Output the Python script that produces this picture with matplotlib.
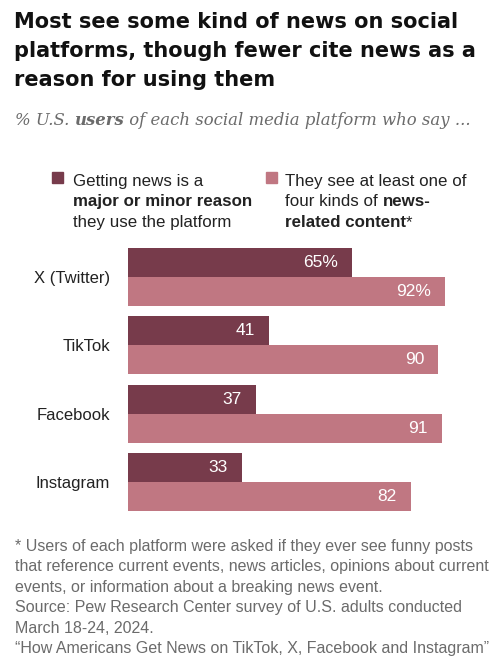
import matplotlib.pyplot as plt
from matplotlib.patches import Rectangle
from matplotlib.text import Annotation

platforms = ["X (Twitter)", "TikTok", "Facebook", "Instagram"]
news_reason = [65, 41, 37, 33]
see_news = [92, 90, 91, 82]

title = "Most see some kind of news on social\nplatforms, though fewer cite news as a\nreason for using them"
footnote = [
    "* Users of each platform were asked if they ever see funny posts",
    "that reference current events, news articles, opinions about current",
    "events, or information about a breaking news event.",
    "Source: Pew Research Center survey of U.S. adults conducted",
    "March 18-24, 2024.",
    "\u201cHow Americans Get News on TikTok, X, Facebook and Instagram\u201d",
]

dark = "#773b4b"
light = "#c07782"
grey = "#6b6b6b"

plt.rcParams['font.family'] = ['Liberation Sans', 'DejaVu Sans']

W, H = 500, 663
fig = plt.figure(figsize=(W / 100, H / 100), dpi=100)


def fx(px):
    return px / W


def fy(px):
    return 1 - px / H


def rich(x, y, parts, **kw):
    # chain text pieces so mixed weights/styles sit on one line
    s, style = parts[0]
    t = fig.text(x, y, s, va='baseline', **style, **kw)
    for s, style in parts[1:]:
        t = fig.add_artist(Annotation(s, xy=(1, 0), xycoords=t, va='bottom',
                                      ha='left', **style, **kw))
    return t


# title and subtitle
fig.text(fx(14), fy(12), title, va='top', ha='left', fontsize=15,
         fontweight='bold', color='#111111', linespacing=1.55,
         family='DejaVu Sans')

serif = dict(family=['DejaVu Serif'], style='italic')
rich(fx(15), fy(125), [("% U.S. ", serif),
                       ("users", dict(serif, weight='bold')),
                       (" of each social media platform who say ...", serif)],
     fontsize=11.9, color=grey)

# bars
ax = fig.add_axes([fx(128), fy(511), fx(344.6), 263 / H])
h = 0.42
pos = list(range(len(platforms)))
b1 = ax.barh([p - h / 2 for p in pos], news_reason, height=h, color=dark)
b2 = ax.barh([p + h / 2 for p in pos], see_news, height=h, color=light)
ax.set_xlim(0, 100)
ax.set_ylim(3 + h, -h)
ax.set_yticks(pos, platforms)
ax.tick_params(axis='y', length=0, pad=13, labelsize=12, labelcolor='#222222')
ax.set_xticks([])
for sp in ax.spines.values():
    sp.set_visible(False)

for bars, vals in ((b1, news_reason), (b2, see_news)):
    for i, (bar, v) in enumerate(zip(bars, vals)):
        lab = f"{v}%" if i == 0 else str(v)
        ax.annotate(lab, xy=(v, bar.get_y() + bar.get_height() / 2),
                    xytext=(-10, 0), textcoords='offset points',
                    ha='right', va='center', color='white', fontsize=12.5)

# legend
fig.add_artist(Rectangle((fx(52), fy(183)), fx(11), 11 / H, color=dark,
                         transform=fig.transFigure))
fig.add_artist(Rectangle((fx(266), fy(183)), fx(11), 11 / H, color=light,
                         transform=fig.transFigure))
reg = dict()
bold = dict(weight='bold')
lkw = dict(fontsize=12.2, color='#222222')
rich(fx(73), fy(186), [("Getting news is a", reg)], **lkw)
rich(fx(73), fy(206), [("major or minor reason", bold)], **lkw)
rich(fx(73), fy(227), [("they use the platform", reg)], **lkw)
rich(fx(285), fy(186), [("They see at least one of", reg)], **lkw)
rich(fx(285), fy(206), [("four kinds of ", reg), ("news-", bold)], **lkw)
rich(fx(285), fy(227), [("related content", bold), ("*", reg)], **lkw)

# footnote
for i, line in enumerate(footnote):
    fig.text(fx(15), fy(551 + i * 20.4), line, va='baseline', ha='left',
             fontsize=11.5, color=grey)

fig.savefig("out.png", dpi=100)
